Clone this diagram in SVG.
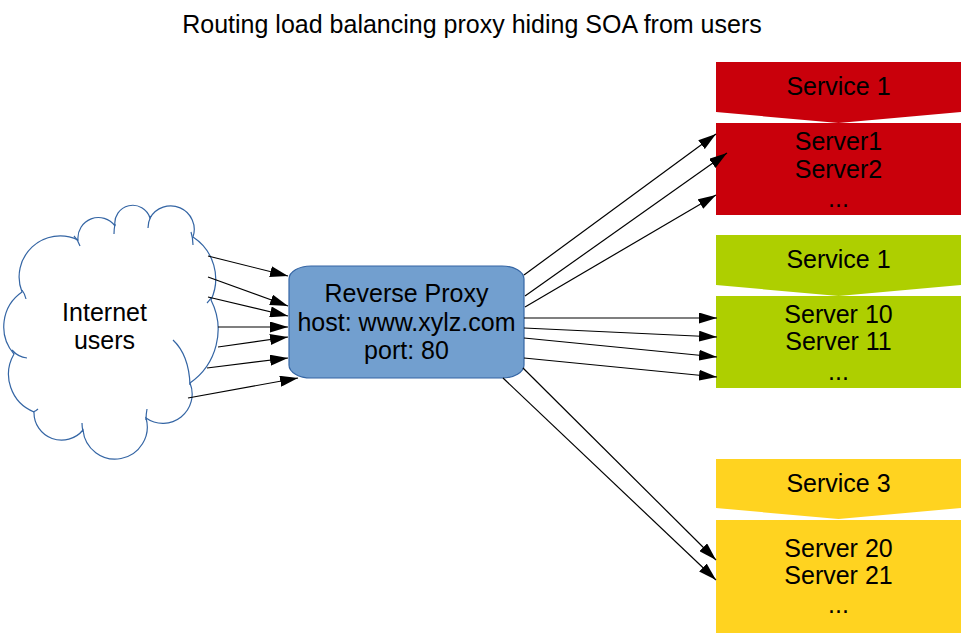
<svg xmlns="http://www.w3.org/2000/svg" width="969" height="638" viewBox="0 0 969 638">
<defs>
<marker id="ah" markerUnits="userSpaceOnUse" markerWidth="18" markerHeight="11" refX="18" refY="5.5" orient="auto">
<path d="M0,0 L18,5.5 L0,11 z" fill="#000"/>
</marker>
<style>
text{font-family:"Liberation Sans",Arial,sans-serif;font-size:25px;fill:#000;text-anchor:middle}
.cloud{fill:#fff;stroke:#3465a4;stroke-width:1.2}
.tail{fill:none;stroke:#3465a4;stroke-width:1.2}
.conn line{stroke:#000;stroke-width:1.2;marker-end:url(#ah)}
.red{fill:#c9000b}
.green{fill:#aecf00}
.yellow{fill:#ffd320}
</style>
</defs>
<rect width="969" height="638" fill="#fff"/>
<text id="title" x="472" y="33">Routing load balancing proxy hiding SOA from users</text>

<g id="internet">
<path class="cloud" d="M22,292 A41,41 0 0 1 78,240 A20.5,20.5 0 0 1 115,226 A18,18 0 0 1 150,218 A23.6,23.6 0 0 1 193,237 A50,50 0 0 1 211,300 A65,65 0 0 1 190,383 A29.3,29.3 0 0 1 146,418 A32.2,32.2 0 1 1 83,430 A27.6,27.6 0 0 1 34,412 A40.6,40.6 0 0 1 14,354 A41.9,41.9 0 0 1 22,292 Z"/>
<path class="tail" d="M22,290 q3,4 4,9 M74,236 q4,4 6,10 M115,224 q-1,5 -1,10 M151,216 q-3,6 -3,12 M191,232 q2,6 2,13 M211,298 q-2,3 -4,5 M190,385 Q189,355 173,340 M146,420 q0,-6 1,-11 M83,432 q-1,-5 -1,-9 M33,412 q3,-1 5,-3 M12,350 q6,7 15,8"/>
<text x="104.5" y="321">Internet</text>
<text x="104.5" y="349">users</text>
</g>

<g id="proxy">
<rect x="289" y="266" width="235" height="112" rx="22" ry="13" fill="#729fcf" stroke="#3465a4" stroke-width="1.2"/>
<text x="406.5" y="302">Reverse Proxy</text>
<text x="406.5" y="331">host: www.xylz.com</text>
<text x="406.5" y="359">port: 80</text>
</g>

<g id="service-red">
<polygon class="red" points="716,62 961,62 961,112 838.5,123 716,112"/>
<rect class="red" x="716" y="123" width="245" height="92"/>
<text x="838.5" y="95">Service 1</text>
<text x="838.5" y="150">Server1</text>
<text x="838.5" y="178">Server2</text>
<text x="838.5" y="207">...</text>
</g>

<g id="service-green">
<polygon class="green" points="716,235 961,235 961,285 838.5,296 716,285"/>
<rect class="green" x="716" y="296" width="245" height="92"/>
<text x="838.5" y="268">Service 1</text>
<text x="838.5" y="323">Server 10</text>
<text x="838.5" y="350">Server 11</text>
<text x="838.5" y="380">...</text>
</g>

<g id="service-yellow">
<polygon class="yellow" points="716,459 961,459 961,508 838.5,519 716,508"/>
<rect class="yellow" x="716" y="520" width="245" height="113"/>
<text x="838.5" y="492">Service 3</text>
<text x="838.5" y="557">Server 20</text>
<text x="838.5" y="584">Server 21</text>
<text x="838.5" y="613">...</text>
</g>

<g id="connectors" class="conn">
<line x1="208" y1="256" x2="288" y2="276"/>
<line x1="208" y1="277" x2="288" y2="306"/>
<line x1="208" y1="297" x2="288" y2="316"/>
<line x1="218" y1="327" x2="288" y2="327"/>
<line x1="218" y1="347" x2="288" y2="337"/>
<line x1="207" y1="368" x2="288" y2="358"/>
<line x1="188" y1="398" x2="298" y2="378"/>
<line x1="524" y1="275" x2="716" y2="134"/>
<line x1="525" y1="296" x2="727" y2="153"/>
<line x1="525" y1="307" x2="716" y2="195"/>
<line x1="524" y1="318" x2="717" y2="318"/>
<line x1="524" y1="328" x2="717" y2="337"/>
<line x1="524" y1="338" x2="717" y2="357"/>
<line x1="524" y1="358" x2="717" y2="377"/>
<line x1="523" y1="368" x2="716" y2="560"/>
<line x1="503" y1="378" x2="716" y2="580"/>
</g>
</svg>
